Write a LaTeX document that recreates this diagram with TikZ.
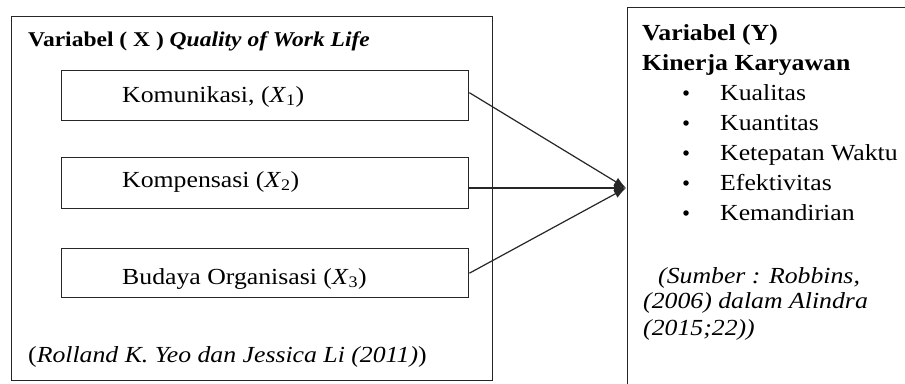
\documentclass[tikz,border=0pt]{standalone}
\usepackage{fontspec}
\setmainfont{Liberation Serif}[FakeStretch=1.12]
\usetikzlibrary{arrows.meta}
\newcommand{\sbx}[1]{\textsubscript{#1}}
\begin{document}
\begin{tikzpicture}[x=1pt,y=-1pt,
  frame/.style={draw=black!85, line width=1.4pt},
  varbox/.style={draw=black!85, line width=1.4pt, minimum width=407pt, minimum height=50pt, anchor=north west, inner sep=0pt},
  txt/.style={anchor=base west, inner sep=0pt, font=\fontsize{23}{28}\selectfont},
  hdr/.style={anchor=base west, inner sep=0pt, font=\fontsize{21}{26}\selectfont\bfseries},
  hdry/.style={anchor=base west, inner sep=0pt, font=\fontsize{23}{28}\selectfont\bfseries},
  src/.style={anchor=base west, inner sep=0pt, font=\fontsize{23}{28}\selectfont\itshape},
  bul/.style={circle, fill=black, inner sep=0pt, minimum size=5.5pt},
  conn/.style={draw=black!85, line width=1.2pt, -{Latex[length=12pt,width=9pt]}}]
\useasboundingbox (0,0) rectangle (905,383);
\clip (0,0) rectangle (905,383);
\fill[white] (0,0) rectangle (905,383);
% left outer box
\node[frame, anchor=north west, minimum width=481pt, minimum height=364pt, inner sep=0pt] (xbox) at (11,16) {};
\node[hdr] (xh) at (28,46) {Variabel ( X ) \textit{Quality of Work Life}};
\node[varbox] (b1) at (61,70) {};
\node[varbox, minimum height=51pt] (b2) at (61,157) {};
\node[varbox, minimum height=49pt] (b3) at (61,248) {};
\node[txt] (t1) at (122,102) {Komunikasi, (\textit{X}\sbx{1})};
\node[txt] (t2) at (122,187) {Kompensasi (\textit{X}\sbx{2})};
\node[txt] (t3) at (122,284) {Budaya Organisasi (\textit{X}\sbx{3})};
\node[src] (xs) at (28,362) {\upshape(\itshape Rolland K. Yeo dan Jessica Li (2011)\upshape)};
% right box
\node[frame, anchor=north west, minimum width=320pt, minimum height=420pt, inner sep=0pt] (ybox) at (627,7) {};
\node[hdry] (yh1) at (642,40) {Variabel (Y)};
\node[hdry] (yh2) at (642,70) {Kinerja Karyawan};
\node[bul] (p1) at (686,93) {};
\node[bul] (p2) at (686,123) {};
\node[bul] (p3) at (686,153) {};
\node[bul] (p4) at (686,183) {};
\node[bul] (p5) at (686,213) {};
\node[txt] (i1) at (720,100) {Kualitas};
\node[txt] (i2) at (720,130) {Kuantitas};
\node[txt] (i3) at (720,160) {Ketepatan Waktu};
\node[txt] (i4) at (720,190) {Efektivitas};
\node[txt] (i5) at (720,220) {Kemandirian};
\node[src] (ys1) at (658,283) {(Sumber : Robbins,};
\node[src] (ys2) at (643,308) {(2006) dalam Alindra};
\node[src] (ys3) at (643,335) {(2015;22))};
% connectors
\coordinate (tip) at (626,188);
\draw[conn] ([yshift=3pt]b1.east) -- (tip);
\draw[conn] (b2.east |- tip) -- (tip);
\draw[conn] (b3.east) -- (tip);
\end{tikzpicture}
\end{document}
